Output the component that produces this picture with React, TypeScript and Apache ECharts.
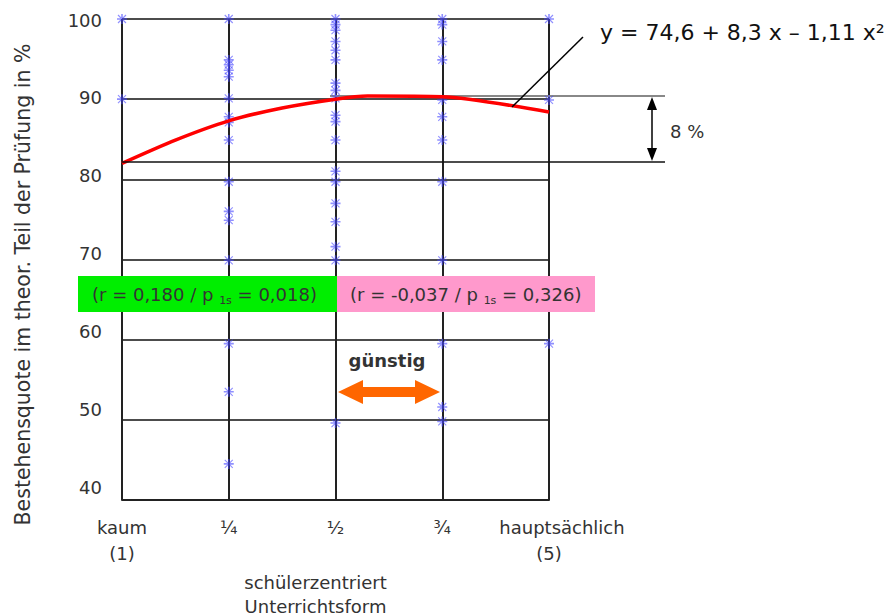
import React, { useEffect, useRef } from 'react';
import * as echarts from 'echarts';

// Category tick labels (x = 1..5)
const xTickLabels = ['kaum\n(1)', '¼', '½', '¾', 'hauptsächlich\n(5)'];
// Y tick labels
const yTickValues = [40, 50, 60, 70, 80, 90, 100];

const valuesKaum = [100, 90];
const valuesQuarter = [100, 94.9, 94.3, 93.6, 92.8, 90.1, 87.8, 87.1, 84.9, 79.7, 76.0, 74.9, 69.9, 59.5, 53.5, 44.5];
const valuesHalf = [100, 99.3, 98.6, 97.2, 96.1, 94.9, 92.0, 91.1, 90.1, 88.0, 87.2, 84.9, 81.0, 79.7, 77.0, 74.7, 71.6, 69.9, 49.6];
const valuesThreeQuarter = [100, 99.3, 97.2, 94.9, 89.9, 87.8, 84.9, 79.7, 69.9, 59.5, 51.6, 49.8];
const valuesMainly = [100, 89.9, 59.5];

// Red trend curve as drawn in the picture
const trendX = [1, 1.5, 2, 2.5, 3, 3.3, 4, 5];
const trendY = [82, 84.9, 87.3, 88.9, 90, 90.4, 90.3, 88.4];

const FONT = 'DejaVu Sans';
const TXT = '#333333';

export default function App() {
  const ref = useRef<HTMLDivElement>(null);

  useEffect(() => {
    if (!ref.current) return;
    const chart = echarts.init(ref.current, null, { renderer: 'svg' });

    const groups = [valuesKaum, valuesQuarter, valuesHalf, valuesThreeQuarter, valuesMainly];
    const scatterData = groups.flatMap((g, i) => g.map((v) => [i + 1, v]));
    const trendData = trendX.map((x, i) => [x, trendY[i]]);

    const star =
      'path://M4.2,0H5.8V10H4.2Z M0,4.2H10V5.8H0Z M1.4,0.6L9.4,8.6L8.6,9.4L0.6,1.4Z M8.6,0.6L9.4,1.4L1.4,9.4L0.6,8.6Z';

    const option: any = {
      animation: false,
      backgroundColor: '#ffffff',
      grid: { left: 122, right: 342, top: 19, bottom: 116, containLabel: false, outerBoundsMode: 'none' },
      xAxis: {
        type: 'value',
        min: 1,
        max: 5,
        interval: 1,
        axisLine: { show: true, lineStyle: { color: '#222', width: 2 } },
        axisTick: { show: false },
        splitLine: { show: true, lineStyle: { color: '#222', width: 2 } },
        axisLabel: {
          margin: 14,
          color: TXT,
          fontFamily: FONT,
          fontSize: 18,
          lineHeight: 26,
          formatter: (v: number) => {
            const i = Math.round(v) - 1;
            const lines = (xTickLabels[i] || '').split('\n');
            if (i === 4) return `{h|${lines[0]}}\n{n|${lines[1]}}`;
            return lines.map((l) => `{n|${l}}`).join('\n');
          },
          rich: {
            n: { fontFamily: FONT, fontSize: 18, color: TXT, lineHeight: 26 },
            h: { fontFamily: FONT, fontSize: 18, color: TXT, lineHeight: 26, padding: [0, 0, 0, 26] },
          },
        },
        name: 'schülerzentriert\nUnterrichtsform',
        nameLocation: 'middle',
        nameGap: 61,
        nameTextStyle: { fontFamily: FONT, fontSize: 18, color: TXT, lineHeight: 24, padding: [0, 40, 0, 0] },
      },
      yAxis: [
        {
          type: 'value',
          min: 40,
          max: 100,
          interval: 10,
          position: 'left',
          axisLine: { show: false },
          axisTick: { show: false },
          axisLabel: { show: false },
          splitLine: { show: true, lineStyle: { color: '#111', width: 1.5 } },
          name: 'Bestehensquote im theor. Teil der Prüfung in %',
          nameLocation: 'middle',
          nameGap: 89,
          nameTextStyle: { fontFamily: FONT, fontSize: 20.5, color: TXT, padding: [0, 50, 0, 0] },
        },
        {
          type: 'value',
          min: 38.33,
          max: 100.13,
          position: 'left',
          axisLine: { show: false },
          axisTick: { show: false },
          splitLine: { show: false },
          axisLabel: { customValues: yTickValues, margin: 20, color: TXT, fontFamily: FONT, fontSize: 18 },
        },
      ],
      series: [
        {
          type: 'scatter',
          yAxisIndex: 0,
          data: scatterData,
          symbol: star,
          symbolSize: 10,
          clip: false,
          itemStyle: { color: 'rgba(70,70,255,0.75)' },
          z: 3,
        },
        {
          type: 'line',
          yAxisIndex: 0,
          data: trendData,
          smooth: 0.25,
          showSymbol: false,
          lineStyle: { color: '#ff0000', width: 3.5 },
          z: 4,
        },
      ],
      graphic: [
        // reference lines for the 8 % span
        { type: 'line', shape: { x1: 122, y1: 162, x2: 665, y2: 162 }, style: { stroke: '#111', lineWidth: 1.5 }, z: 5 },
        { type: 'line', shape: { x1: 330, y1: 96, x2: 665, y2: 96 }, style: { stroke: '#888', lineWidth: 2 }, z: 2 },
        { type: 'line', shape: { x1: 652, y1: 104, x2: 652, y2: 154 }, style: { stroke: '#000', lineWidth: 1.5 }, z: 5 },
        { type: 'polygon', shape: { points: [[652, 97], [647, 110], [657, 110]] }, style: { fill: '#000' }, z: 5 },
        { type: 'polygon', shape: { points: [[652, 161], [647, 148], [657, 148]] }, style: { fill: '#000' }, z: 5 },
        {
          type: 'text', x: 670, y: 131,
          style: { text: '8 %', fill: TXT, fontFamily: FONT, fontSize: 18, textAlign: 'left', textVerticalAlign: 'middle' },
          z: 6,
        },
        // equation + leader line
        { type: 'line', shape: { x1: 512, y1: 107, x2: 583, y2: 37 }, style: { stroke: '#000', lineWidth: 1.5 }, z: 6 },
        {
          type: 'text', x: 600, y: 32,
          style: { text: 'y = 74,6 + 8,3 x – 1,11 x²', fill: '#111', fontFamily: FONT, fontSize: 22, textAlign: 'left', textVerticalAlign: 'middle' },
          z: 6,
        },
        // correlation boxes
        { type: 'rect', shape: { x: 78, y: 276, width: 259, height: 36 }, style: { fill: '#00ee00' }, z: 7 },
        { type: 'rect', shape: { x: 337, y: 276, width: 258, height: 36 }, style: { fill: '#ff99cc' }, z: 7 },
        {
          type: 'text', x: 92, y: 294,
          style: {
            text: '{m|(r = 0,180 / p }{s|1s}{m| = 0,018)}',
            textAlign: 'left', textVerticalAlign: 'middle',
            rich: {
              m: { fontFamily: FONT, fontSize: 18, fill: TXT, color: TXT, lineHeight: 24 },
              s: { fontFamily: FONT, fontSize: 11, fill: TXT, color: TXT, lineHeight: 14, verticalAlign: 'bottom' },
            },
          },
          z: 8,
        },
        {
          type: 'text', x: 350, y: 294,
          style: {
            text: '{m|(r = -0,037 / p }{s|1s}{m| = 0,326)}',
            textAlign: 'left', textVerticalAlign: 'middle',
            rich: {
              m: { fontFamily: FONT, fontSize: 18, fill: TXT, color: TXT, lineHeight: 24 },
              s: { fontFamily: FONT, fontSize: 11, fill: TXT, color: TXT, lineHeight: 14, verticalAlign: 'bottom' },
            },
          },
          z: 8,
        },
        // "günstig" with orange double arrow
        {
          type: 'text', x: 387, y: 360,
          style: { text: 'günstig', fill: TXT, fontFamily: FONT, fontSize: 18, fontWeight: 'bold', textAlign: 'center', textVerticalAlign: 'middle' },
          z: 8,
        },
        {
          type: 'polygon',
          shape: {
            points: [[338, 392], [363, 380], [363, 387], [415, 387], [415, 380], [440, 392], [415, 404], [415, 397], [363, 397], [363, 404]],
          },
          style: { fill: '#ff6600' },
          z: 8,
        },
      ],
    };

    chart.setOption(option);
    return () => chart.dispose();
  }, []);

  return (
    <div
      ref={ref}
      style={{ position: 'fixed', left: 0, top: 0, width: 891, height: 616, background: '#fff' }}
    />
  );
}
